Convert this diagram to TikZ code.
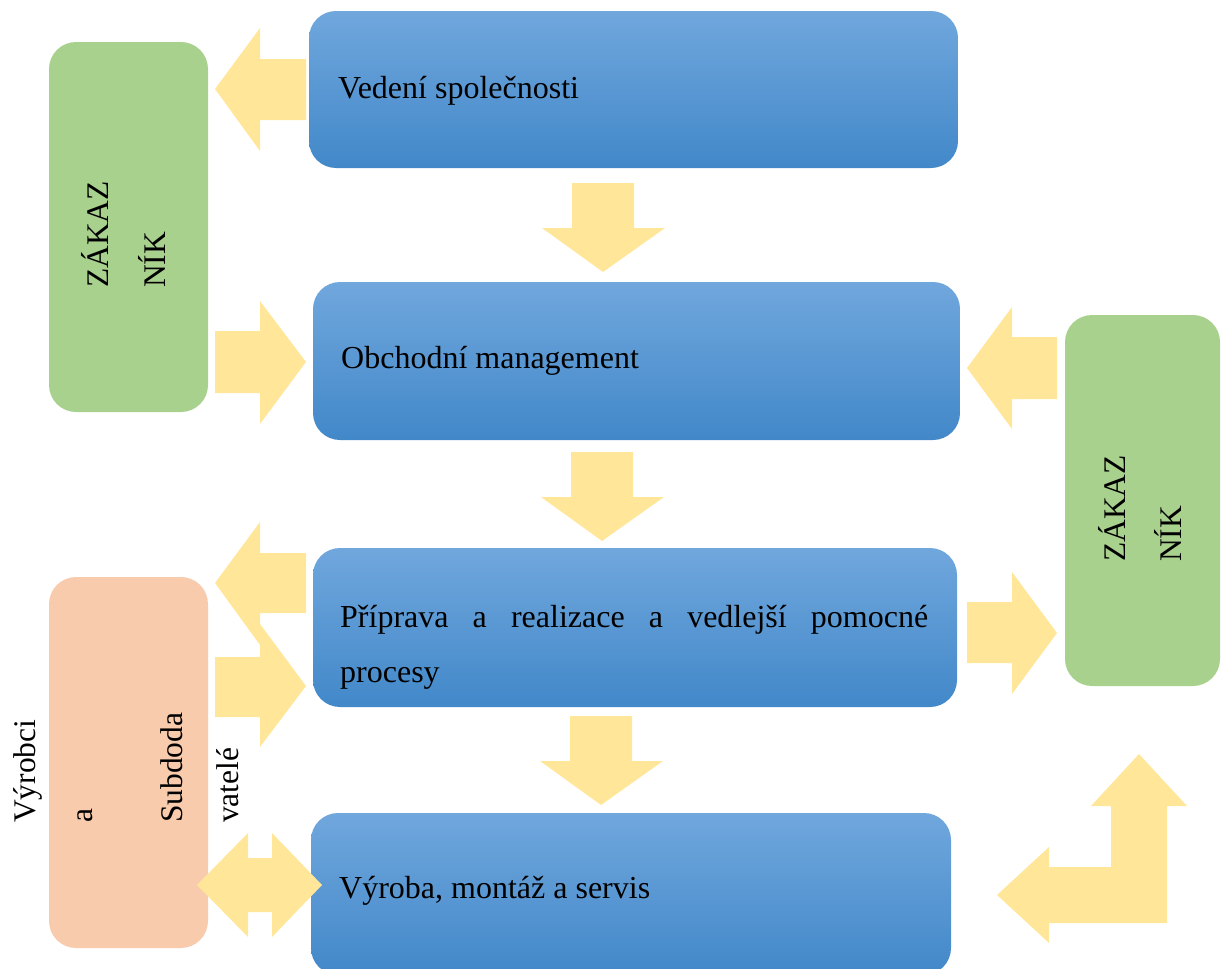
\documentclass[tikz,border=0pt]{standalone}
\usepackage{fontspec}
\setmainfont{Liberation Serif}
\definecolor{bluetop}{RGB}{112,167,221}
\definecolor{bluebot}{RGB}{66,136,201}
\definecolor{boxgreen}{RGB}{169,209,142}
\definecolor{boxorange}{RGB}{248,203,173}
\definecolor{arrowyellow}{RGB}{255,230,153}
\begin{document}
\begin{tikzpicture}[x=1pt,y=-1pt,
  bluebox/.style={rectangle, rounded corners=27pt, top color=bluetop, bottom color=bluebot, draw=none, inner sep=0pt},
  sidebox/.style={rectangle, rounded corners=27pt, draw=none, inner sep=0pt},
  txt/.style={font=\fontsize{32}{55}\selectfont, inner sep=0pt, anchor=base west},
  vtxt/.style={font=\fontsize{31.5}{55}\selectfont, inner sep=0pt, anchor=base west, rotate=90},
  blockarrow/.style={fill=arrowyellow, draw=none}]
\useasboundingbox (0,0) rectangle (1221,969);

% blue process boxes
\node[bluebox, minimum width=649pt, minimum height=157pt] (b1) at (633.5,89.5) {};
\node[bluebox, minimum width=647pt, minimum height=158pt] (b2) at (636.5,361) {};
\node[bluebox, minimum width=644pt, minimum height=159pt] (b3) at (635,627.5) {};
\node[bluebox, minimum width=640pt, minimum height=162pt] (b4) at (631,894) {};

% side boxes
\node[sidebox, fill=boxgreen, minimum width=159pt, minimum height=370pt] (zl) at (128.5,227) {};
\node[sidebox, fill=boxgreen, minimum width=155pt, minimum height=371pt] (zr) at (1142.5,500.5) {};
\node[sidebox, fill=boxorange, minimum width=159pt, minimum height=371pt] (vs) at (128.5,762.5) {};

% texts in blue boxes
\node[txt] (t1) at (338,98) {Vedení společnosti};
\node[txt] (t2) at (341,368) {Obchodní management};
\node[txt] (t3) at (340,627) {\parbox[t]{588pt}{\fontsize{32}{55}\selectfont Příprava a realizace a vedlejší pomocné\linebreak procesy}};
\node[txt] (t4) at (339,898) {Výroba, montáž a servis};

% rotated texts
\node[vtxt] (zl1) at (108,288) {ZÁKAZ};
\node[vtxt] (zl2) at (165,288) {NÍK};
\node[vtxt] (zr1) at (1125,562) {ZÁKAZ};
\node[vtxt] (zr2) at (1181,562) {NÍK};
\node[vtxt] (vs1) at (35,823) {Výrobci};
\node[vtxt] (vs2) at (92,823) {a};
\node[vtxt] (vs3) at (182,823) {Subdoda};
\node[vtxt] (vs4) at (238,823) {vatelé};

% block arrows
% Vedeni -> Zakaznik (left)
\fill[blockarrow] (215,89) -- (260,28) -- (260,59) -- (306,59) -- (306,120) -- (260,120) -- (260,151) -- cycle;
% Zakaznik -> Obchodni (right)
\fill[blockarrow] (215,331) -- (260,331) -- (260,301) -- (306,362) -- (260,424) -- (260,393) -- (215,393) -- cycle;
% down arrows
\fill[blockarrow] (572,183) -- (634,183) -- (634,228) -- (665,228) -- (603,272) -- (542,228) -- (572,228) -- cycle;
\fill[blockarrow] (571,452) -- (633,452) -- (633,497) -- (664,497) -- (602,541) -- (541,497) -- (571,497) -- cycle;
\fill[blockarrow] (570,716) -- (632,716) -- (632,761) -- (663,761) -- (601,805) -- (540,761) -- (570,761) -- cycle;
% right side
\fill[blockarrow] (967,368) -- (1012,307) -- (1012,337) -- (1057,337) -- (1057,399) -- (1012,399) -- (1012,429) -- cycle;
\fill[blockarrow] (967,602) -- (1012,602) -- (1012,572) -- (1057,633) -- (1012,694) -- (1012,663) -- (967,663) -- cycle;
% left bottom
\fill[blockarrow] (215,583) -- (260,522) -- (260,553) -- (306,553) -- (306,613) -- (260,613) -- (260,645) -- cycle;
\fill[blockarrow] (215,657) -- (260,657) -- (260,624) -- (306,686) -- (260,747) -- (260,717) -- (215,717) -- cycle;
% double arrow
\fill[blockarrow] (197,885) -- (248,833) -- (248,858) -- (272,858) -- (272,833) -- (322,885) -- (272,937) -- (272,912) -- (248,912) -- (248,937) -- cycle;
% bent arrow
\fill[blockarrow] (997,895) -- (1049,847) -- (1049,867) -- (1111,867) -- (1111,806) -- (1091,806) -- (1139,754) -- (1187,806) -- (1167,806) -- (1167,923) -- (1049,923) -- (1049,943) -- cycle;
\end{tikzpicture}
\end{document}
